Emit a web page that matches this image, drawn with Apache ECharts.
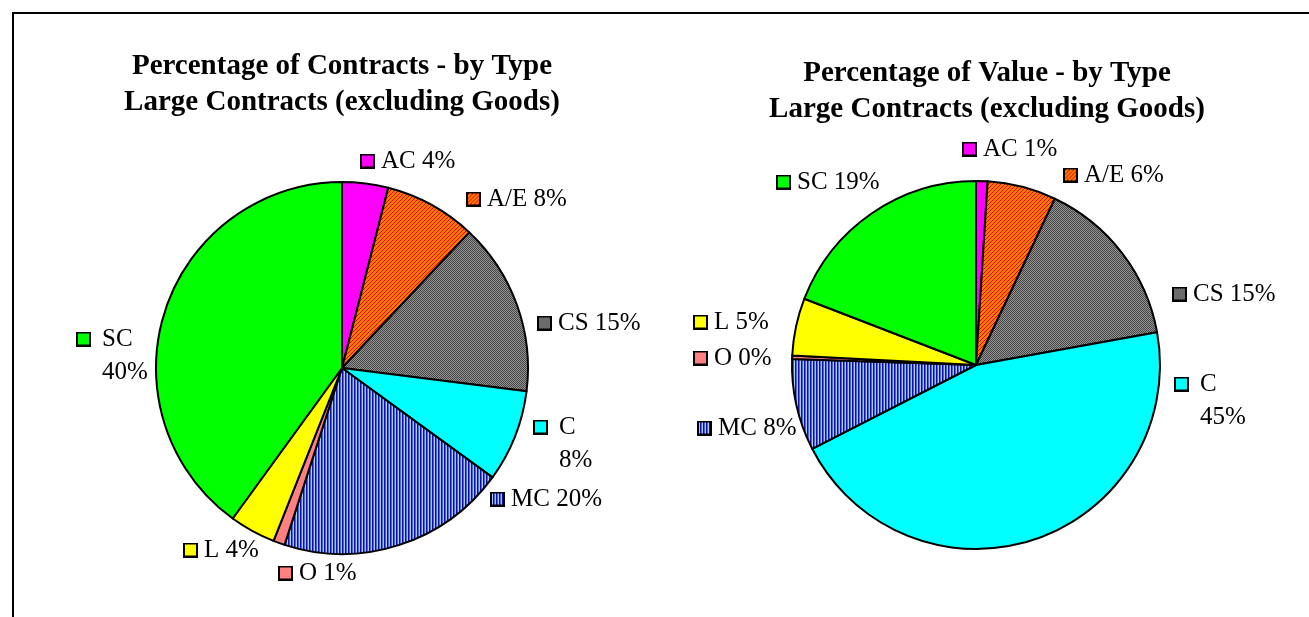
<!DOCTYPE html>
<html>
<head>
<meta charset="utf-8">
<script src="https://cdn.jsdelivr.net/npm/echarts@6/dist/echarts.min.js"></script>
<style>
html, body { margin: 0; padding: 0; background: #fff; }
#chart { width: 1309px; height: 617px; }
</style>
</head>
<body>
<div id="chart"></div>
<script>
// contract types, clockwise from 12 o'clock
const categories = ['AC', 'A/E', 'CS', 'C', 'MC', 'O', 'L', 'SC']
// percentage of contracts by type (left pie)
const contractPct = [4, 8, 15, 8, 20, 1, 4, 40]
// percentage of value by type (right pie), O is a thin sliver shown as 0%
const valuePct = [1, 6, 15, 45, 8, 0.3, 5, 19]

const titleLeft = 'Percentage of Contracts - by Type\nLarge Contracts (excluding Goods)'
const titleRight = 'Percentage of Value - by Type\nLarge Contracts (excluding Goods)'

const FONT = '"Liberation Serif", "Times New Roman", serif'
const LINE = 33
const KEY = 15

function tile (w, h, draw) {
  const c = document.createElement('canvas')
  c.width = w
  c.height = h
  draw(c.getContext('2d'))
  return c
}

// fill patterns like the excel ones
const hatchAE = tile(4, 4, ctx => {
  ctx.fillStyle = '#ff7a00'
  ctx.fillRect(0, 0, 4, 4)
  ctx.fillStyle = '#e20000'
  for (let x = 0; x < 4; x++) {
    for (let y = 0; y < 4; y++) {
      if ((x + y) % 4 === 0) ctx.fillRect(x, y, 1, 1)
    }
  }
})
const dotsCS = tile(2, 2, ctx => {
  ctx.fillStyle = '#959595'
  ctx.fillRect(0, 0, 2, 2)
  ctx.fillStyle = '#444444'
  ctx.fillRect(0, 0, 1, 1)
  ctx.fillRect(1, 1, 1, 1)
})
const stripesMC = tile(3, 1, ctx => {
  ctx.fillStyle = '#10109a'
  ctx.fillRect(0, 0, 1, 1)
  ctx.fillStyle = '#4463ee'
  ctx.fillRect(1, 0, 1, 1)
  ctx.fillStyle = '#b0c6ff'
  ctx.fillRect(2, 0, 1, 1)
})

const fills = {
  'AC': '#ff00ff',
  'A/E': hatchAE,
  'CS': dotsCS,
  'C': '#00ffff',
  'MC': stripesMC,
  'O': '#ff8080',
  'L': '#ffff00',
  'SC': '#00ff00'
}

function sliceColor (name) {
  const f = fills[name]
  return typeof f === 'string' ? f : { image: f, repeat: 'repeat' }
}

// legend key: black framed square with the slice fill
function keyImage (name) {
  const f = fills[name]
  return tile(KEY, KEY, ctx => {
    ctx.fillStyle = '#000'
    ctx.fillRect(0, 0, KEY, KEY)
    ctx.fillStyle = typeof f === 'string' ? f : ctx.createPattern(f, 'repeat')
    ctx.fillRect(2, 2, KEY - 4, KEY - 4)
  })
}

// where excel left each data label (left edge of key, middle of first line)
const spotsLeft = {
  'AC': [360, 161], 'A/E': [466, 199], 'CS': [537, 323], 'C': [533, 427],
  'MC': [490, 499], 'O': [278, 573], 'L': [183, 550], 'SC': [76, 339]
}
const spotsRight = {
  'AC': [962, 149], 'A/E': [1063, 175], 'CS': [1172, 294], 'C': [1174, 384],
  'MC': [697, 428], 'O': [693, 358], 'L': [693, 322], 'SC': [776, 182]
}

function pieSeries (values, center, radius, spots, wrapped) {
  return {
    type: 'pie',
    center: center,
    radius: radius,
    startAngle: 90,
    clockwise: true,
    avoidLabelOverlap: false,
    silent: true,
    animation: false,
    itemStyle: { borderColor: '#000', borderWidth: 2 },
    labelLine: { show: false },
    label: { position: 'outside', fontFamily: FONT, fontSize: 25, lineHeight: LINE, color: '#000' },
    data: categories.map((name, i) => ({
      name: name,
      value: values[i],
      itemStyle: { color: sliceColor(name) },
      label: {
        formatter: p => {
          const pct = Math.round(p.value) + '%'
          return wrapped.indexOf(p.name) >= 0
            ? '{k|}{w|}{t|' + p.name + '}\n{s|}{w|}{t|' + pct + '}'
            : '{k|}{g|}{t|' + p.name + ' ' + pct + '}'
        },
        rich: {
          k: { width: KEY, height: KEY, backgroundColor: { image: keyImage(name) }, lineHeight: LINE },
          g: { width: 6, lineHeight: LINE },
          w: { width: 11, lineHeight: LINE },
          s: { width: KEY, lineHeight: LINE },
          t: { fontFamily: FONT, fontSize: 25, color: '#000', lineHeight: LINE }
        }
      }
    })),
    labelLayout: p => {
      const s = spots[categories[p.dataIndex]]
      return { x: s[0], y: s[1] - LINE / 2, align: 'left', verticalAlign: 'top' }
    }
  }
}

const titleStyle = { fontFamily: FONT, fontSize: 29, fontWeight: 'bold', color: '#000', lineHeight: 36 }

const myChart = echarts.init(document.getElementById('chart'))
myChart.setOption({
  animation: false,
  backgroundColor: '#fff',
  title: [
    { text: titleLeft, left: 342, top: 49, textAlign: 'center', padding: 0, textStyle: titleStyle },
    { text: titleRight, left: 987, top: 56, textAlign: 'center', padding: 0, textStyle: titleStyle }
  ],
  graphic: [
    {
      type: 'rect',
      silent: true,
      shape: { x: 13, y: 13, width: 1400, height: 700 },
      style: { fill: 'none', stroke: '#000', lineWidth: 2 }
    }
  ],
  series: [
    pieSeries(contractPct, [342, 368], 186, spotsLeft, ['C', 'SC']),
    pieSeries(valuePct, [976, 365], 184, spotsRight, ['C'])
  ]
})
</script>
</body>
</html>
